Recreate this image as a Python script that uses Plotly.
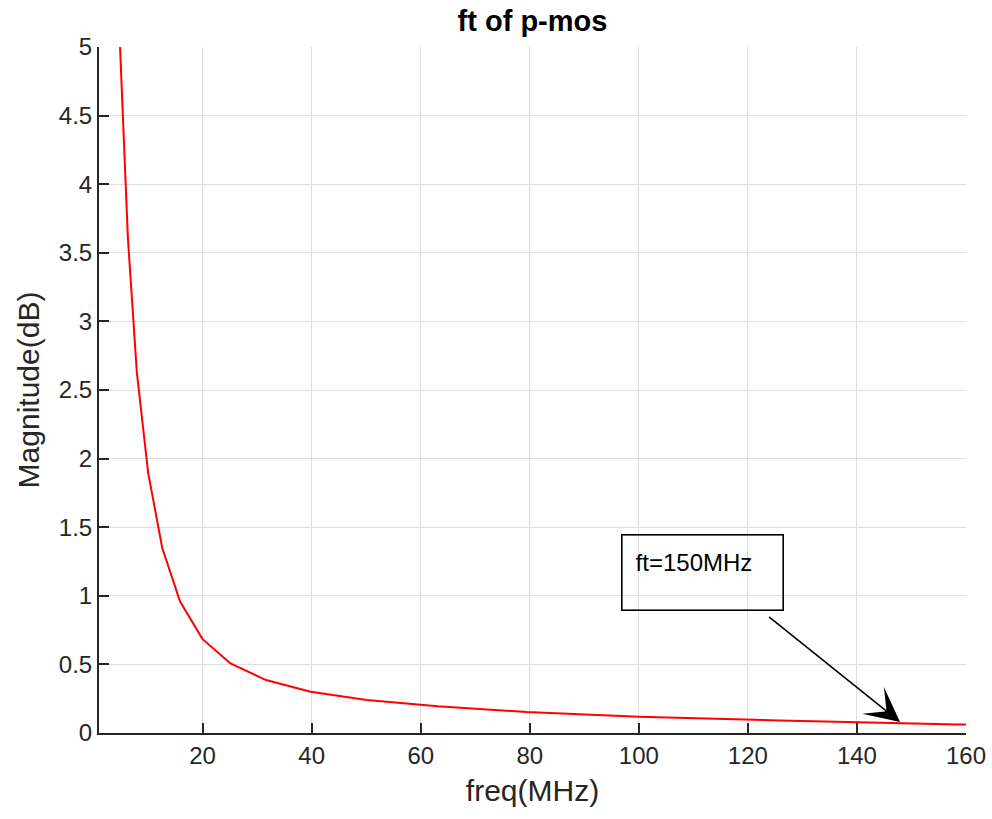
import plotly.graph_objects as go

# Transition-frequency sweep of the p-MOS device (log-spaced frequency points)
freq_mhz = [3.98, 5.01, 6.31, 7.94, 10.0, 12.59, 15.85, 19.95, 25.12, 31.62,
            39.81, 50.12, 63.10, 79.43, 100.0, 125.89, 158.49, 199.53]
magnitude_db = [5.85, 4.85, 3.60, 2.63, 1.90, 1.35, 0.96, 0.686, 0.507, 0.386,
                0.300, 0.240, 0.195, 0.153, 0.119, 0.092, 0.062, 0.045]

x_ticks = [20, 40, 60, 80, 100, 120, 140, 160]
y_ticks = [0, 0.5, 1, 1.5, 2, 2.5, 3, 3.5, 4, 4.5, 5]

ft_label = "ft=150MHz"
arrow_tip = (147.9, 0.08)
arrow_tail = (123.6, 0.855)
box_corner = (96.8, 1.448)

FONT = "Liberation Sans, Arial, Helvetica, sans-serif"
AXIS_COLOR = "#262626"
GRID_COLOR = "#dedede"

fig = go.Figure()
fig.add_trace(go.Scatter(
    x=freq_mhz, y=magnitude_db, mode="lines",
    line=dict(color="#ff0000", width=2),
    showlegend=False, hoverinfo="x+y",
))

axis_common = dict(
    showline=True, linecolor=AXIS_COLOR, linewidth=2,
    ticks="inside", ticklen=10, tickwidth=2, tickcolor=AXIS_COLOR,
    showgrid=True, gridcolor=GRID_COLOR, gridwidth=1.4,
    zeroline=False, mirror=False, automargin=False,
    tickfont=dict(family=FONT, size=24, color=AXIS_COLOR),
)

fig.update_xaxes(
    range=[1, 160], tickvals=x_ticks,
    title=dict(text="freq(MHz)", font=dict(family=FONT, size=30, color=AXIS_COLOR), standoff=12),
    **axis_common,
)
fig.update_yaxes(
    range=[0, 5], tickvals=y_ticks,
    title=dict(text="Magnitude(dB)", font=dict(family=FONT, size=30, color=AXIS_COLOR), standoff=10),
    **axis_common,
)

# Text box with the ft value
fig.add_annotation(
    x=box_corner[0], y=box_corner[1], xref="x", yref="y",
    xanchor="left", yanchor="top",
    text=ft_label, showarrow=False,
    font=dict(family=FONT, size=24, color="#000000"),
    align="left", valign="top",
    width=134, height=48, borderpad=13,
    bordercolor="#000000", borderwidth=1.6, bgcolor="rgba(255,255,255,0)",
)
# Arrow pointing at the crossing on the curve
fig.add_annotation(
    x=arrow_tip[0], y=arrow_tip[1], xref="x", yref="y",
    ax=arrow_tail[0], ay=arrow_tail[1], axref="x", ayref="y",
    text="", showarrow=True, arrowhead=3, arrowsize=3.6, arrowwidth=1.6,
    arrowcolor="#000000", standoff=0, startstandoff=0,
)

fig.update_layout(
    width=992, height=819,
    margin=dict(l=99, r=26, t=47, b=86, autoexpand=False),
    paper_bgcolor="#ffffff", plot_bgcolor="#ffffff",
    title=dict(text="<b>ft of p-mos</b>", x=0.5, xref="paper",
               y=1 - 21 / 819, yref="container", yanchor="middle",
               font=dict(family=FONT, size=29, color="#000000")),
)

fig.write_html("out.html")
